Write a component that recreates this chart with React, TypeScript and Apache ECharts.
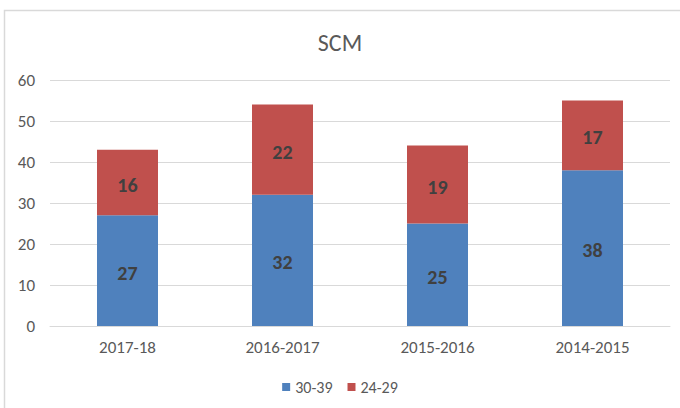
import React, { useEffect, useRef } from "react";
import * as echarts from "echarts";

const categories = ["2017-18", "2016-2017", "2015-2016", "2014-2015"];
const seriesNames = ["30-39", "24-29"];
const values3039 = [27, 32, 25, 38];
const values2429 = [16, 22, 19, 17];
const yTicks = [0, 10, 20, 30, 40, 50, 60];

const FONT = 'Carlito, "Liberation Sans", "Open Sans", sans-serif';

export default function App() {
  const ref = useRef<HTMLDivElement>(null);
  useEffect(() => {
    if (!ref.current) return;
    const chart = echarts.init(ref.current, null, { renderer: "svg" });
    const barLabel = {
      show: true,
      position: "inside",
      fontFamily: FONT,
      fontSize: 20,
      fontWeight: "bold",
      color: "#404040",
      offset: [0, 2],
    };
    chart.setOption({
      animation: false,
      backgroundColor: "#ffffff",
      textStyle: { fontFamily: FONT },
      title: {
        text: "SCM",
        left: "center",
        top: 25,
        textStyle: { fontFamily: FONT, fontSize: 24, fontWeight: "normal", color: "#595959" },
      },
      graphic: [
        {
          type: "rect",
          shape: { x: 4.5, y: 10.5, width: 700, height: 420 },
          style: { fill: "none", stroke: "#d9d9d9", lineWidth: 1.5 },
          silent: true,
        },
      ],
      legend: {
        top: 374,
        left: "center",
        itemWidth: 8,
        itemHeight: 8,
        itemGap: 15,
        icon: "rect",
        textStyle: { fontFamily: FONT, fontSize: 16, color: "#595959" },
        data: seriesNames,
      },
      grid: { left: 50, right: 10, top: 80, bottom: 82, containLabel: false },
      xAxis: {
        type: "category",
        data: categories,
        axisLine: { lineStyle: { color: "#d9d9d9", width: 1 } },
        axisTick: { show: false },
        axisLabel: { fontFamily: FONT, fontSize: 17, color: "#595959", margin: 13 },
      },
      yAxis: {
        type: "value",
        min: yTicks[0],
        max: yTicks[yTicks.length - 1],
        interval: 10,
        axisLine: { show: false },
        axisTick: { show: false },
        axisLabel: { fontFamily: FONT, fontSize: 17, color: "#595959", margin: 15 },
        splitLine: { lineStyle: { color: "#d9d9d9", width: 1 } },
      },
      series: [
        {
          name: seriesNames[0],
          type: "bar",
          stack: "total",
          data: values3039,
          barWidth: 61,
          itemStyle: { color: "#4f81bd" },
          label: barLabel,
        },
        {
          name: seriesNames[1],
          type: "bar",
          stack: "total",
          data: values2429,
          barWidth: 61,
          itemStyle: { color: "#c0504d" },
          label: barLabel,
        },
      ],
    });
    return () => chart.dispose();
  }, []);
  return (
    <div
      ref={ref}
      style={{ position: "fixed", left: 0, top: 0, width: 680, height: 408 }}
    />
  );
}
